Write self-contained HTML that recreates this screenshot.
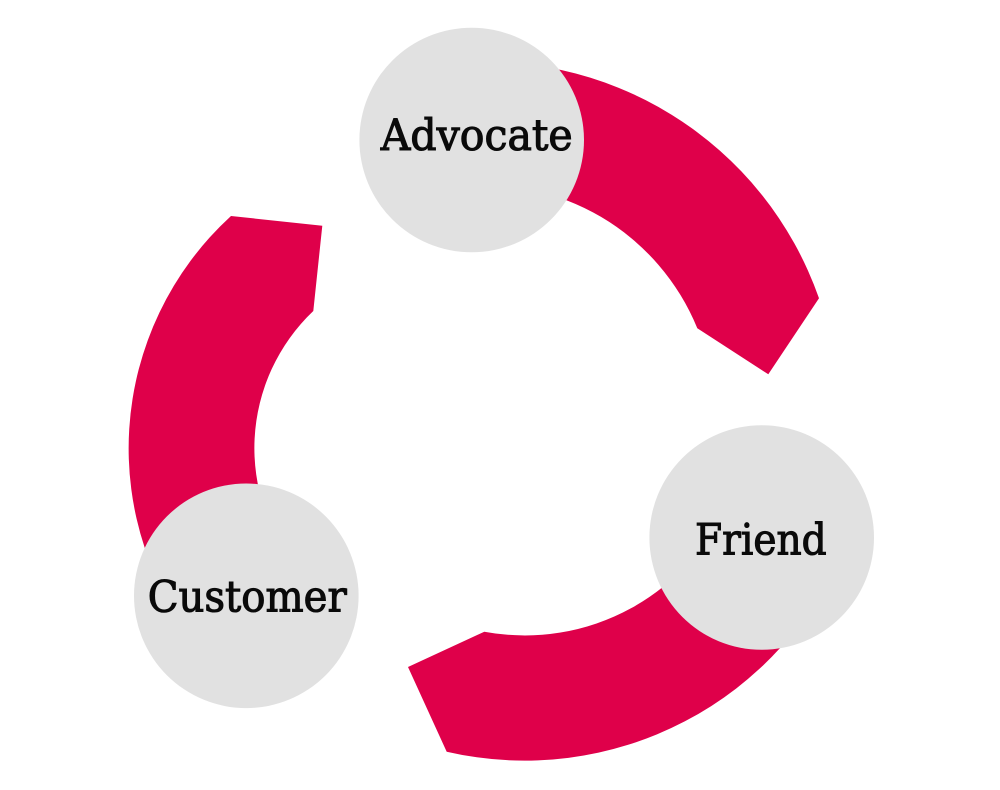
<!DOCTYPE html>
<html>
<head>
<meta charset="utf-8">
<style>
  html, body { margin: 0; padding: 0; background: #ffffff; }
  body { width: 1000px; height: 790px; overflow: hidden; }
  svg { display: block; }
  .lbl { font-family: "DejaVu Serif", "Liberation Serif", serif; font-size: 43px; fill: #0a0a0a; stroke: #0a0a0a; stroke-width: 1.1px; }
</style>
</head>
<body>
<svg width="1000" height="790" viewBox="0 0 1000 790" xmlns="http://www.w3.org/2000/svg">
  <rect x="0" y="0" width="1000" height="790" fill="#ffffff"/>

  <!-- Top arc (Advocate -> Friend) -->
  <path d="M 442,64.6 A 353 353 0 0 1 819,298.3 L 768.3,374.3 L 697.3,328.3 A 230 230 0 0 0 457,186.7 Z" fill="#DF004A"/>

  <!-- Left arc (Customer -> Advocate) -->
  <path d="M 203.7,652.5 A 315 315 0 0 1 231,216 L 322.3,225.7 L 313.3,311 A 189 189 0 0 0 300.2,571.5 Z" fill="#DF004A"/>

  <!-- Bottom arc (Friend -> Customer) -->
  <path d="M 845.8,543.6 A 346 346 0 0 1 446.7,751.7 L 408,667 L 484.3,631.7 A 221 221 0 0 0 729.9,496.8 Z" fill="#DF004A"/>

  <!-- Circles -->
  <circle cx="471.7" cy="140" r="112.3" fill="#E1E1E1"/>
  <circle cx="761.7" cy="537.5" r="112.3" fill="#E1E1E1"/>
  <circle cx="246.3" cy="595.8" r="112.3" fill="#E1E1E1"/>

  <!-- Labels -->
  <text class="lbl" x="380.7" y="150" textLength="192" lengthAdjust="spacingAndGlyphs">Advocate</text>
  <text class="lbl" x="695" y="554.3" textLength="131.7" lengthAdjust="spacingAndGlyphs">Friend</text>
  <text class="lbl" x="147.7" y="611.7" textLength="199" lengthAdjust="spacingAndGlyphs">Customer</text>
</svg>
</body>
</html>
